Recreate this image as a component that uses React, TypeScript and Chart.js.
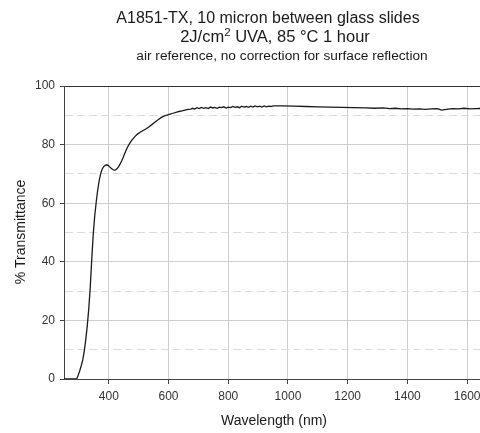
import React, { useEffect, useRef } from 'react';
import { Chart, registerables } from 'chart.js';

Chart.register(...registerables);

// ---- data ----
const wavelengths = [
  250, 270, 285, 293, 298, 303, 308, 313, 318, 323, 328, 333, 338, 343, 348, 353, 358, 363, 368, 373,
  378, 383, 388, 393, 398, 403, 408, 413, 418, 423, 428, 433, 438, 443, 448, 453, 458, 463, 468, 473,
  478, 483, 488, 495, 505, 515, 525, 535, 545, 555, 565, 575, 585, 595, 605, 615, 625, 635, 645, 655,
  665, 675, 680, 688, 695, 703, 710, 718, 725, 733, 740, 748, 755, 763, 770, 778, 785, 793, 800, 808,
  815, 823, 830, 838, 845, 853, 860, 868, 875, 883, 890, 898, 905, 913, 920, 928, 935, 943, 950, 980,
  1020, 1060, 1100, 1140, 1180, 1220, 1260, 1290, 1320, 1340, 1360, 1380, 1400, 1420, 1440, 1460, 1480, 1500, 1515, 1530,
  1550, 1570, 1590, 1610, 1630, 1650, 1670, 1700,
];
const transmittance = [
  0, 0, 0, 0.1, 1.4, 2.9, 4.6, 6.6, 9.6, 13.5, 18.2, 24, 31.5, 41, 49.5, 55.8, 60.5, 64.6, 67.8, 70.2,
  71.7, 72.5, 72.9, 73.1, 72.9, 72.4, 71.9, 71.5, 71.3, 71.4, 71.8, 72.5, 73.4, 74.4, 75.6, 76.9, 78.1, 79.2, 80.1, 80.9,
  81.6, 82.2, 82.8, 83.5, 84.2, 84.8, 85.4, 86.1, 86.9, 87.7, 88.5, 89.2, 89.7, 90.1, 90.4, 90.7, 91.0, 91.3, 91.5, 91.8,
  92.0, 92.1, 92.4, 92.1, 92.6, 92.3, 92.7, 92.4, 92.6, 92.3, 92.8, 92.5, 92.7, 92.4, 92.8, 92.6, 92.9, 92.5, 92.8, 92.6,
  93.0, 92.7, 92.9, 92.6, 93.1, 92.8, 93.0, 92.7, 93.1, 92.8, 93.2, 92.9, 93.1, 92.8, 93.2, 92.9, 93.1, 93.0, 93.2, 93.2,
  93.1, 93.0, 92.9, 92.8, 92.7, 92.6, 92.5, 92.4, 92.5, 92.3, 92.4, 92.2, 92.3, 92.1, 92.2, 92.0, 92.2, 92.3, 91.8, 92.0,
  92.3, 92.2, 92.4, 92.2, 92.3, 92.4, 92.3, 92.4,
];
const xTickValues = [400, 600, 800, 1000, 1200, 1400, 1600];
const yTickValues = [0, 10, 20, 30, 40, 50, 60, 70, 80, 90, 100];
const titleLine1 = 'A1851-TX, 10 micron between glass slides';
const titleLine2a = '2J/cm';
const titleLine2sup = '2';
const titleLine2b = ' UVA, 85 °C 1 hour';
const titleLine3 = 'air reference, no correction for surface reflection';
const xAxisTitle = 'Wavelength (nm)';
const yAxisTitle = '% Transmittance';

const W = 497;
const H = 433;
const FONT = '"Liberation Sans", Arial, Helvetica, sans-serif';

export default function App() {
  const ref = useRef<HTMLCanvasElement>(null);

  useEffect(() => {
    if (!ref.current) return;
    const textPlugin = {
      id: 'textPlugin',
      afterDraw(chart: any) {
        const ctx = chart.ctx as CanvasRenderingContext2D;
        ctx.save();
        ctx.fillStyle = '#1a1a1a';
        ctx.textBaseline = 'alphabetic';
        ctx.textAlign = 'left';
        // Title line 1
        ctx.font = `16px ${FONT}`;
        const w1 = ctx.measureText(titleLine1).width;
        ctx.fillText(titleLine1, 268 - w1 / 2, 23);
        // Title line 2 with superscript
        ctx.font = `16.5px ${FONT}`;
        const wa = ctx.measureText(titleLine2a).width;
        const wb = ctx.measureText(titleLine2b).width;
        ctx.font = `11.5px ${FONT}`;
        const ws = ctx.measureText(titleLine2sup).width;
        const total = wa + ws + wb;
        let x = 275 - total / 2;
        ctx.font = `16.5px ${FONT}`;
        ctx.fillText(titleLine2a, x, 42);
        x += wa;
        ctx.font = `11.5px ${FONT}`;
        ctx.fillText(titleLine2sup, x, 36);
        x += ws;
        ctx.font = `16.5px ${FONT}`;
        ctx.fillText(titleLine2b, x, 42);
        // Title line 3
        ctx.font = `13.7px ${FONT}`;
        const w3 = ctx.measureText(titleLine3).width;
        ctx.fillText(titleLine3, 282 - w3 / 2, 60);
        // X axis title
        ctx.font = `14px ${FONT}`;
        ctx.textAlign = 'center';
        ctx.fillText(xAxisTitle, 274, 425);
        // Y axis title
        ctx.translate(25, 232);
        ctx.rotate(-Math.PI / 2);
        ctx.fillText(yAxisTitle, 0, 0);
        ctx.restore();
      },
    };

    const chart = new Chart(ref.current, {
      type: 'line',
      data: {
        datasets: [
          {
            data: wavelengths.map((w, i) => ({ x: w, y: transmittance[i] })),
            borderColor: '#1a1a1a',
            borderWidth: 1.3,
            pointRadius: 0,
            tension: 0,
            fill: false,
          },
        ],
      },
      options: {
        responsive: false,
        animation: false,
        devicePixelRatio: 1,
        layout: { padding: { top: 86, left: 0, right: 0, bottom: 0 } },
        plugins: {
          legend: { display: false },
          tooltip: { enabled: false },
          title: { display: false },
        },
        scales: {
          x: {
            type: 'linear',
            min: 250,
            max: 1700,
            afterBuildTicks: (s: any) => {
              s.ticks = xTickValues.map((v) => ({ value: v }));
            },
            afterFit: (s: any) => {
              s.height = 54;
            },
            grid: {
              color: '#cfcfcf',
              lineWidth: 1,
              drawTicks: true,
              tickLength: 5,
              tickColor: '#444',
            },
            border: { display: true, color: '#444', width: 1 },
            ticks: {
              font: { family: FONT, size: 12 },
              color: '#333',
              padding: 5,
              maxRotation: 0,
              autoSkip: false,
              callback: (v: any) => String(v),
            },
          },
          y: {
            type: 'linear',
            min: 0,
            max: 100,
            afterBuildTicks: (s: any) => {
              s.ticks = yTickValues.map((v) => ({ value: v }));
            },
            afterFit: (s: any) => {
              s.width = 64;
            },
            grid: {
              color: (c: any) =>
                c.tick && c.tick.value === 100
                  ? '#333'
                  : c.tick && c.tick.value % 20 === 0
                  ? '#cfcfcf'
                  : '#dcdcdc',
              lineWidth: 1,
              drawTicks: true,
              tickLength: 4,
              tickColor: (c: any) =>
                c.tick && c.tick.value % 20 === 0 ? '#444' : 'rgba(0,0,0,0)',
            },
            border: {
              display: true,
              color: '#444',
              width: 1,
              dash: (c: any) => (c.tick && c.tick.value % 20 !== 0 ? [8, 4] : []),
            },
            ticks: {
              font: { family: FONT, size: 12 },
              color: '#333',
              padding: 5,
              autoSkip: false,
              callback: (v: any) => (Number(v) % 20 === 0 ? String(v) : ''),
            },
          },
        },
      } as any,
      plugins: [textPlugin],
    });
    return () => chart.destroy();
  }, []);

  return (
    <div
      style={{
        position: 'fixed',
        left: 0,
        top: 0,
        width: 480,
        height: 433,
        overflow: 'hidden',
        background: '#fff',
      }}
    >
      <canvas ref={ref} width={W} height={H} style={{ display: 'block', width: W, height: H }} />
    </div>
  );
}
